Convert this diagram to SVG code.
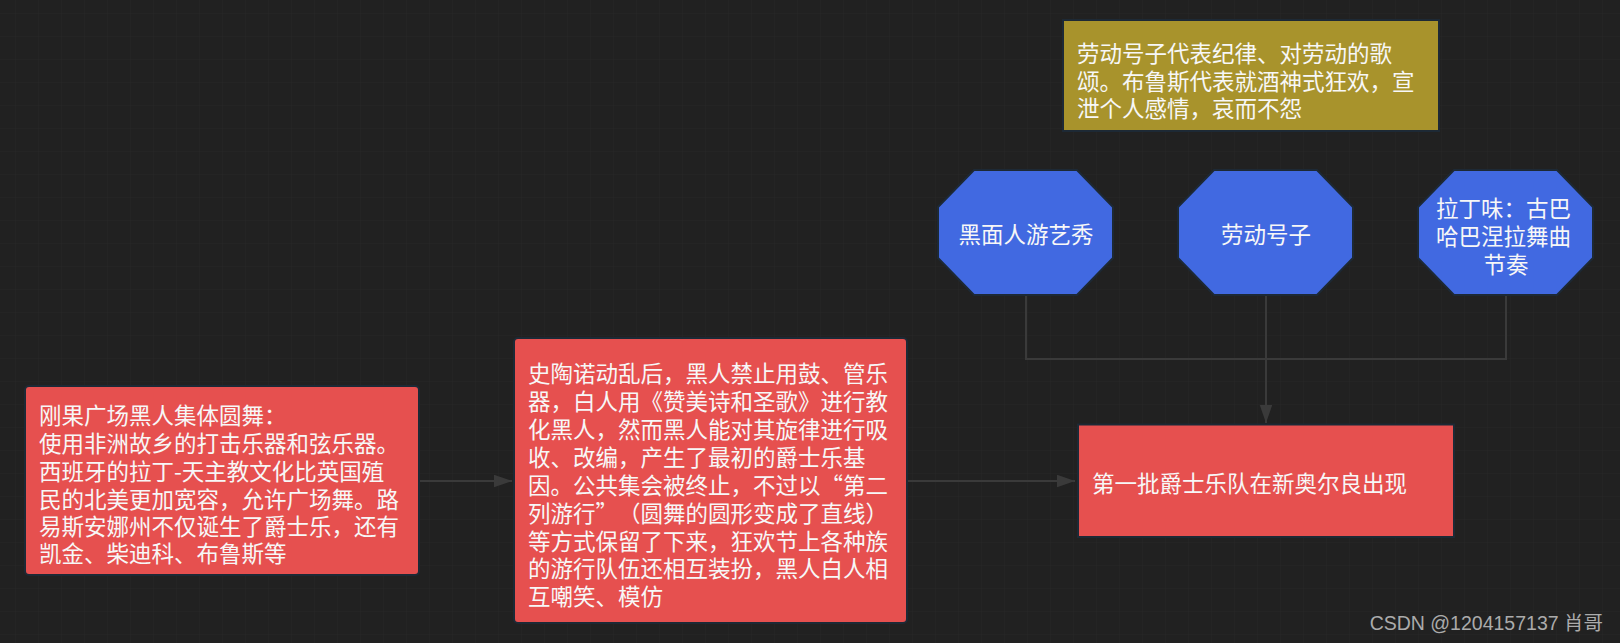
<svg xmlns="http://www.w3.org/2000/svg" width="1620" height="643" viewBox="0 0 1620 643">
  <defs>
    <pattern id="grid" x="15" y="13" width="23" height="23" patternUnits="userSpaceOnUse">
      <path d="M0 0 H23 M0 0 V23" fill="none" stroke="#282828" stroke-width="1"/>
    </pattern>
    <marker id="arrow" markerUnits="userSpaceOnUse" markerWidth="18" markerHeight="13" refX="18" refY="6.25" orient="auto">
      <path d="M0,0 L18,6.25 L0,12.5 z" fill="#3a3a3a"/>
    </marker>
    <style>
      .red { fill: #e6504f; stroke: #1d2935; stroke-width: 2; }
      .olive { fill: #a8932c; stroke: #1d2935; stroke-width: 2; }
      .oct { fill: #4169e1; stroke: #1d2935; stroke-width: 2; }
      .t { font-family: "Noto Sans CJK SC", "Noto Sans", sans-serif; font-size: 22.5px; fill: #f7f7f7; dominant-baseline: central; }
      .c { text-anchor: middle; }
      .edge { fill: none; stroke: #3a3a3a; stroke-width: 2; }
      .wm { font-family: "Liberation Sans", "Noto Sans CJK SC", sans-serif; font-size: 19.5px; fill: #ababab; text-anchor: end; dominant-baseline: central; }
    </style>
  </defs>
  <rect x="0" y="0" width="1620" height="643" fill="#212121"/>
  <rect x="0" y="0" width="1620" height="643" fill="url(#grid)"/>

  <g id="connectors">
    <path class="edge" d="M419 481 H512" marker-end="url(#arrow)"/>
    <path class="edge" d="M908 481 H1075" marker-end="url(#arrow)"/>
    <path class="edge" d="M1026 296 V359 H1506 V296"/>
    <path class="edge" d="M1266 296 V423" marker-end="url(#arrow)"/>
  </g>

  <g id="node-congo">
    <rect class="red" x="25" y="386" width="394" height="189" rx="4"/>
    <text class="t">
      <tspan x="39" y="413.5">刚果广场黑人集体圆舞：</tspan>
      <tspan x="39" y="441.5">使用非洲故乡的打击乐器和弦乐器。</tspan>
      <tspan x="39" y="469.5">西班牙的拉丁-天主教文化比英国殖</tspan>
      <tspan x="39" y="497.5">民的北美更加宽容，允许广场舞。路</tspan>
      <tspan x="39" y="525">易斯安娜州不仅诞生了爵士乐，还有</tspan>
      <tspan x="39" y="552">凯金、柴迪科、布鲁斯等</tspan>
    </text>
  </g>

  <g id="node-stono">
    <rect class="red" x="514" y="338" width="393" height="285" rx="4"/>
    <text class="t">
      <tspan x="528" y="372">史陶诺动乱后，黑人禁止用鼓、管乐</tspan>
      <tspan x="528" y="400">器，白人用《赞美诗和圣歌》进行教</tspan>
      <tspan x="528" y="428">化黑人，然而黑人能对其旋律进行吸</tspan>
      <tspan x="528" y="455.5">收、改编，产生了最初的爵士乐基</tspan>
      <tspan x="528" y="483.5">因。公共集会被终止，不过以“第二</tspan>
      <tspan x="528" y="511.5">列游行”</tspan><tspan x="618" y="511.5">（圆舞的圆形变成了直线）</tspan>
      <tspan x="528" y="539.5">等方式保留了下来，狂欢节上各种族</tspan>
      <tspan x="528" y="567">的游行队伍还相互装扮，黑人白人相</tspan>
      <tspan x="528" y="595">互嘲笑、模仿</tspan>
    </text>
  </g>

  <g id="node-note">
    <rect class="olive" x="1063" y="20" width="376" height="111"/>
    <text class="t">
      <tspan x="1077" y="52">劳动号子代表纪律、对劳动的歌</tspan>
      <tspan x="1077" y="79.5">颂。布鲁斯代表就酒神式狂欢，宣</tspan>
      <tspan x="1077" y="107">泄个人感情，哀而不怨</tspan>
    </text>
  </g>

  <g id="node-minstrel">
    <polygon class="oct" points="974,170 1077,170 1113,207 1113,258 1077,295 974,295 938,258 938,207"/>
    <text class="t c" x="1026" y="233">黑面人游艺秀</text>
  </g>

  <g id="node-worksong">
    <polygon class="oct" points="1214,170 1317,170 1353,207 1353,258 1317,295 1214,295 1178,258 1178,207"/>
    <text class="t c" x="1266" y="233">劳动号子</text>
  </g>

  <g id="node-latin">
    <polygon class="oct" points="1454,170 1557,170 1593,207 1593,258 1557,295 1454,295 1418,258 1418,207"/>
    <text class="t c">
      <tspan x="1506" y="207">拉丁味：古巴</tspan>
      <tspan x="1506" y="235">哈巴涅拉舞曲</tspan>
      <tspan x="1506" y="263">节奏</tspan>
    </text>
  </g>

  <g id="node-neworleans">
    <rect class="red" x="1078" y="424.5" width="376" height="112.5"/>
    <text class="t" x="1092" y="482">第一批爵士乐队在新奥尔良出现</text>
  </g>

  <text class="wm" x="1603" y="623">CSDN @1204157137 肖哥</text>
</svg>
